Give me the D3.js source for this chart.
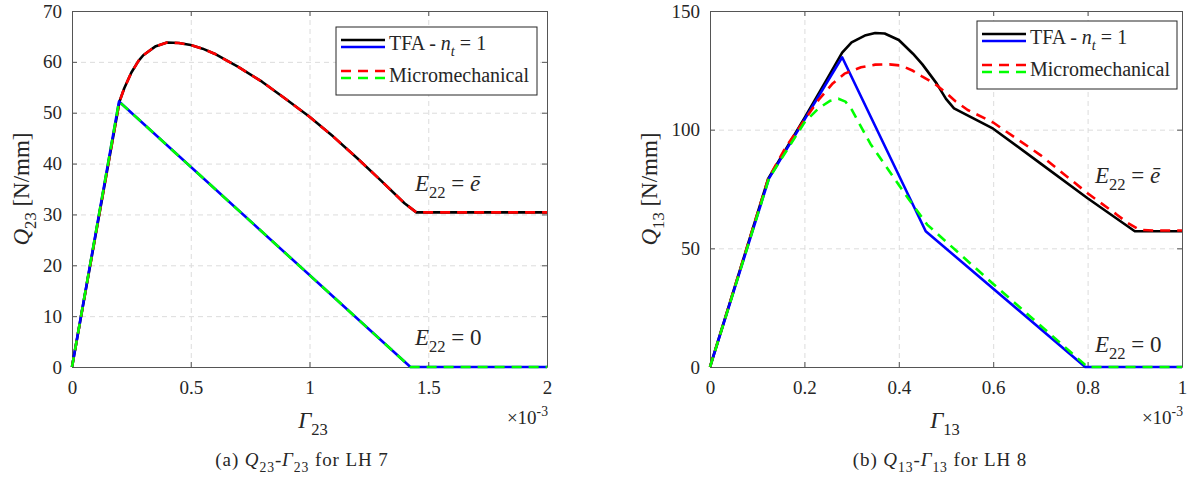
<!DOCTYPE html>
<html>
<head>
<meta charset="utf-8">
<script src="https://d3js.org/d3.v7.min.js"></script>
<style>
  body { margin: 0; background: #fff; }
  text { font-family: 'Liberation Serif', 'Times New Roman', serif; fill: #262626; }
</style>
</head>
<body>
<script>

// ---- data (strain in units of 1e-3, load in N/mm) ----

// (a) LH 7
var lh7XTicks = [0, 0.5, 1, 1.5, 2];
var lh7YTicks = [0, 10, 20, 30, 40, 50, 60, 70];
var lh7TfaEbar = [[0,0],[0.2,52.2],[0.22,54.8],[0.25,57.9],[0.28,60.2],[0.3,61.3],[0.35,63.0],[0.4,63.8],[0.45,63.7],
  [0.5,63.3],[0.55,62.6],[0.6,61.6],[0.7,59.0],[0.8,56.1],[0.9,52.7],[1.0,49.2],[1.1,45.3],[1.2,41.1],[1.3,36.7],
  [1.4,32.2],[1.45,30.4],[2.0,30.4]];
var lh7MicroEbar = [[0,0],[0.2,52.2],[0.22,54.8],[0.25,57.9],[0.28,60.2],[0.3,61.3],[0.35,63.0],[0.4,63.8],[0.45,63.7],
  [0.5,63.3],[0.55,62.6],[0.6,61.6],[0.7,59.0],[0.8,56.1],[0.9,52.7],[1.0,49.2],[1.1,45.3],[1.2,41.1],[1.3,36.7],
  [1.4,32.2],[1.45,30.4],[2.0,30.4]];
var lh7TfaZero = [[0,0],[0.198,52.2],[1.425,0],[2.0,0]];
var lh7MicroZero = [[0,0],[0.198,52.2],[1.425,0],[2.0,0]];

// (b) LH 8
var lh8XTicks = [0, 0.2, 0.4, 0.6, 0.8, 1];
var lh8YTicks = [0, 50, 100, 150];
var lh8TfaEbar = [[0,0],[0.123,79.2],[0.2,104.8],[0.25,122],[0.28,132.5],[0.3,136.8],[0.33,139.8],[0.35,140.7],
  [0.37,140.5],[0.4,137.8],[0.43,132],[0.45,127.5],[0.48,119.5],[0.5,113],[0.517,109],[0.6,100.4],[0.7,85.8],
  [0.8,71.1],[0.9,57.2],[1.0,57.2]];
var lh8MicroEbar = [[0,0],[0.123,79.2],[0.16,92.5],[0.2,104],[0.23,112.5],[0.26,119.5],[0.285,123.6],[0.32,126.3],
  [0.35,127.4],[0.38,127.5],[0.405,127],[0.43,124.8],[0.45,122.3],[0.475,119.5],[0.5,115.5],[0.52,112],[0.546,108.3],
  [0.6,103],[0.7,89.3],[0.8,73.2],[0.86,64.5],[0.885,60.7],[0.91,57.8],[0.94,57.5],[1.0,57.5]];
var lh8TfaZero = [[0,0],[0.125,79.5],[0.28,130.5],[0.457,57.2],[0.795,0],[1.0,0]];
var lh8MicroZero = [[0,0],[0.125,79.5],[0.2,103],[0.23,109],[0.255,112.2],[0.272,113],[0.287,111.8],[0.3,108.5],
  [0.34,94],[0.38,82.5],[0.42,71],[0.46,60],[0.6,35],[0.7,17.5],[0.8,0],[1.0,0]];

var legendLabels = ["TFA - ", "Micromechanical"];

var svg = d3.select("body").append("svg")
  .attr("width", 1194)
  .attr("height", 477);

// text with italic / sub / sup pieces
function mathText(g, x, y, size, parts, anchor) {
  var t = g.append("text")
    .attr("x", x).attr("y", y)
    .attr("font-family", "Liberation Serif")
    .style("font-size", size + "px")
    .attr("text-anchor", anchor || "start");
  var shift = 0;
  parts.forEach(function(p) {
    var s = t.append("tspan").text(p.t);
    var want = p.sub ? 0.3 * size : (p.sup ? -0.42 * size : 0);
    s.attr("dy", want - shift);
    shift = want;
    if (p.i) s.style("font-style", "italic");
    if (p.sub || p.sup) s.style("font-size", (size * 0.72) + "px");
  });
  return t;
}

function drawPanel(cfg) {
  var g = svg.append("g");
  var x = d3.scaleLinear().domain(cfg.xDomain).range([cfg.left, cfg.right]);
  var y = d3.scaleLinear().domain(cfg.yDomain).range([cfg.bottom, cfg.top]);
  var w = cfg.right - cfg.left, h = cfg.bottom - cfg.top;

  // grid
  g.append("g")
    .attr("transform", "translate(0," + cfg.bottom + ")")
    .call(d3.axisBottom(x).tickValues(cfg.xTicks).tickSize(-h).tickFormat(""))
    .call(function(a) {
      a.select(".domain").remove();
      a.selectAll("line").attr("stroke", "#dcdcdc").attr("stroke-dasharray", "5,4");
    });
  g.append("g")
    .attr("transform", "translate(" + cfg.left + ",0)")
    .call(d3.axisLeft(y).tickValues(cfg.yTicks).tickSize(-w).tickFormat(""))
    .call(function(a) {
      a.select(".domain").remove();
      a.selectAll("line").attr("stroke", "#dcdcdc").attr("stroke-dasharray", "5,4");
    });

  // axes with inward ticks on all four sides
  function styleAxis(a) {
    a.attr("font-family", "Liberation Serif");
    a.select(".domain").attr("stroke", "#555").attr("stroke-width", 1);
    a.selectAll(".tick line").attr("stroke", "#555");
    a.selectAll("text").style("font-size", "19px").attr("fill", "#262626");
  }
  g.append("g").attr("transform", "translate(0," + cfg.bottom + ")")
    .call(d3.axisBottom(x).tickValues(cfg.xTicks).tickSize(-5).tickSizeOuter(0).tickPadding(14).tickFormat(d3.format("~g")))
    .call(styleAxis);
  g.append("g").attr("transform", "translate(0," + cfg.top + ")")
    .call(d3.axisTop(x).tickValues(cfg.xTicks).tickSize(-5).tickSizeOuter(0).tickFormat(""))
    .call(styleAxis);
  g.append("g").attr("transform", "translate(" + cfg.left + ",0)")
    .call(d3.axisLeft(y).tickValues(cfg.yTicks).tickSize(-5).tickSizeOuter(0).tickPadding(10))
    .call(styleAxis);
  g.append("g").attr("transform", "translate(" + cfg.right + ",0)")
    .call(d3.axisRight(y).tickValues(cfg.yTicks).tickSize(-5).tickSizeOuter(0).tickFormat(""))
    .call(styleAxis);

  // curves
  var line = d3.line()
    .x(function(d) { return x(d[0]); })
    .y(function(d) { return y(d[1]); });
  var series = [
    { data: cfg.tfaEbar, color: "#000000", dash: null },
    { data: cfg.tfaZero, color: "#0000ff", dash: null },
    { data: cfg.microEbar, color: "#ff0000", dash: "10,7" },
    { data: cfg.microZero, color: "#00ff00", dash: "10,7" }
  ];
  series.forEach(function(s) {
    g.append("path")
      .datum(s.data)
      .attr("d", line)
      .attr("fill", "none")
      .attr("stroke", s.color)
      .attr("stroke-width", 2.6)
      .attr("stroke-linejoin", "round")
      .attr("stroke-dasharray", s.dash);
  });

  // annotations
  mathText(g, cfg.annX, cfg.annY1, 23, [{t:"E", i:true}, {t:"22", sub:true}, {t:" = "}, {t:"\u0113", i:true}]);
  mathText(g, cfg.annX, cfg.annY2, 23, [{t:"E", i:true}, {t:"22", sub:true}, {t:" = 0"}]);

  // legend
  var lg = g.append("g");
  lg.append("rect")
    .attr("x", cfg.legX).attr("y", cfg.legY)
    .attr("width", cfg.legW).attr("height", 68)
    .attr("fill", "#fff").attr("stroke", "#262626").attr("stroke-width", 1);
  var lx0 = cfg.legX + 5, lx1 = cfg.legX + 49;
  [[cfg.legY + 13, "#000000", null], [cfg.legY + 20, "#0000ff", null],
   [cfg.legY + 44, "#ff0000", "10,7"], [cfg.legY + 51, "#00ff00", "10,7"]].forEach(function(r) {
    lg.append("line")
      .attr("x1", lx0).attr("x2", lx1).attr("y1", r[0]).attr("y2", r[0])
      .attr("stroke", r[1]).attr("stroke-width", 2.6)
      .attr("stroke-dasharray", r[2]);
  });
  mathText(lg, cfg.legX + 53, cfg.legY + 23, 20, [{t:legendLabels[0]}, {t:"n", i:true}, {t:"t", sub:true, i:true}, {t:" = 1"}]);
  mathText(lg, cfg.legX + 53, cfg.legY + 55, 20, [{t:legendLabels[1]}]);

  // axis labels
  mathText(g, cfg.xLabX, 428, 23, [{t:"\u0393", i:true}, {t:cfg.idx, sub:true}], "middle");
  mathText(g, cfg.right + 1, 424, 19, [{t:"\u00d710"}, {t:"-3", sup:true}], "end");
  var yl = g.append("g").attr("transform", "translate(" + cfg.yLabX + "," + ((cfg.top + cfg.bottom) / 2) + ") rotate(-90)");
  mathText(yl, 0, 0, 23, [{t:"Q", i:true}, {t:cfg.idx, sub:true}, {t:" [N/mm]"}], "middle");

  // caption
  mathText(g, cfg.capX, 466, 19, [{t:cfg.capTag + " "}, {t:"Q", i:true}, {t:cfg.idx, sub:true}, {t:"-"},
    {t:"\u0393", i:true}, {t:cfg.idx, sub:true}, {t:" for LH " + cfg.lh}], "middle")
    .style("letter-spacing", "0.9px");
}

drawPanel({
  left: 72, right: 547, top: 11, bottom: 367,
  xDomain: [0, 2], yDomain: [0, 70], xTicks: lh7XTicks, yTicks: lh7YTicks,
  tfaEbar: lh7TfaEbar, microEbar: lh7MicroEbar, tfaZero: lh7TfaZero, microZero: lh7MicroZero,
  annX: 415, annY1: 191, annY2: 345,
  legX: 336, legY: 27, legW: 201,
  xLabX: 313, yLabX: 29, idx: "23", capX: 302, capTag: "(a)", lh: "7"
});

drawPanel({
  left: 710, right: 1182, top: 11, bottom: 367,
  xDomain: [0, 1], yDomain: [0, 150], xTicks: lh8XTicks, yTicks: lh8YTicks,
  tfaEbar: lh8TfaEbar, microEbar: lh8MicroEbar, tfaZero: lh8TfaZero, microZero: lh8MicroZero,
  annX: 1095, annY1: 183, annY2: 352,
  legX: 977, legY: 21, legW: 200,
  xLabX: 945, yLabX: 657, idx: "13", capX: 940, capTag: "(b)", lh: "8"
});

</script>
</body>
</html>
